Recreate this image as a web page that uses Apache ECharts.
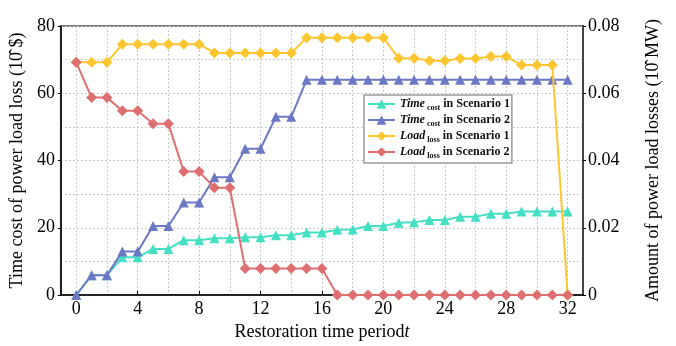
<!DOCTYPE html>
<html>
<head>
<meta charset="utf-8">
<script src="https://cdn.jsdelivr.net/npm/echarts@6/dist/echarts.min.js"></script>
<style>html,body{margin:0;padding:0;background:#fff;}#c{width:676px;height:346px;}</style>
</head>
<body>
<div id="c"></div>
<script>
const periods = [0,1,2,3,4,5,6,7,8,9,10,11,12,13,14,15,16,17,18,19,20,21,22,23,24,25,26,27,28,29,30,31,32];
const xTickLabels = [0,4,8,12,16,20,24,28,32];
const leftTicks = [0,20,40,60,80];
const rightTicks = [0,0.02,0.04,0.06,0.08];

const timeCostS1 = [0,5.9,5.9,11.2,11.2,13.7,13.7,16.3,16.3,16.9,16.9,17.2,17.2,17.8,17.8,18.6,18.6,19.4,19.5,20.5,20.5,21.5,21.6,22.3,22.3,23.3,23.3,24.2,24.2,24.8,24.8,24.8,24.8];
const timeCostS2 = [0,5.9,5.9,12.9,12.9,20.5,20.5,27.5,27.5,35.0,35.0,43.5,43.5,53.0,53.0,64,64,64,64,64,64,64,64,64,64,64,64,64,64,64,64,64,64];
const loadLossS1 = [0.0692,0.0692,0.0692,0.0746,0.0746,0.0746,0.0746,0.0746,0.0746,0.072,0.072,0.072,0.072,0.072,0.072,0.0765,0.0765,0.0765,0.0765,0.0765,0.0765,0.0704,0.0704,0.0697,0.0697,0.0703,0.0703,0.0709,0.0709,0.0684,0.0684,0.0684,0];
const loadLossS2 = [0.0692,0.0587,0.0587,0.0548,0.0548,0.0509,0.0509,0.0367,0.0367,0.0319,0.0319,0.0079,0.0079,0.0079,0.0079,0.0079,0.0079,0,0,0,0,0,0,0,0,0,0,0,0,0,0,0,0];

const seriesNames = ['Time cost in Scenario 1','Time cost in Scenario 2','Load loss in Scenario 1','Load loss in Scenario 2'];
const legendParts = [['Time','cost','in Scenario 1'],['Time','cost','in Scenario 2'],['Load','loss','in Scenario 1'],['Load','loss','in Scenario 2']];
const colors = ['#45dfc4','#6b79c5','#fdc631','#de6f70'];

const FONT = 'Liberation Serif';
const cats = ['-1'].concat(periods.map(String)).concat(['33']);
const pairs = arr => periods.map((t,i) => [String(t), arr[i]]);

const chart = echarts.init(document.getElementById('c'));
const mkSeries = (i, data, yIdx, sym, size) => ({
  name: seriesNames[i], type: 'line', yAxisIndex: yIdx, data: pairs(data),
  symbol: sym, symbolSize: size, showSymbol: true, showAllSymbol: true, color: colors[i],
  lineStyle: {width: 2, color: colors[i]}, itemStyle: {color: colors[i]},
  animation: false, z: 2 + i
});
chart.setOption({
  animation: false,
  grid: {left: 58, top: 26, right: 93, bottom: 51, show: true, borderColor: '#777', borderWidth: 2, backgroundColor: 'transparent'},
  legend: {
    orient: 'vertical', left: 364, top: 95, padding: [3, 2, 3, 3], itemGap: 2,
    itemWidth: 27, itemHeight: 12, backgroundColor: '#fff', borderColor: '#9a9a9a', borderWidth: 1.5,
    data: seriesNames,
    formatter: name => { const p = legendParts[seriesNames.indexOf(name)]; return '{i|' + p[0] + '}{s| ' + p[1] + '}{b| ' + p[2] + '}'; },
    textStyle: {fontFamily: FONT, color: '#111', rich: {
      i: {fontFamily: FONT, fontSize: 12, fontWeight: 'bold', fontStyle: 'italic', lineHeight: 16, color: '#111'},
      s: {fontFamily: FONT, fontSize: 8, fontWeight: 'bold', lineHeight: 9, verticalAlign: 'bottom', color: '#111'},
      b: {fontFamily: FONT, fontSize: 12, fontWeight: 'bold', lineHeight: 16, color: '#111'}
    }}
  },
  xAxis: {
    type: 'category', data: cats, boundaryGap: false,
    name: '{a|Restoration time period}{t|t}', nameLocation: 'middle', nameGap: 24,
    nameTextStyle: {rich: {a: {fontFamily: FONT, fontSize: 18, color: '#000'}, t: {fontFamily: FONT, fontSize: 18, fontStyle: 'italic', color: '#000'}}},
    axisLine: {lineStyle: {color: '#000', width: 1.5}},
    axisTick: {inside: true, length: 4, lineStyle: {color: '#000'}, interval: (i, v) => xTickLabels.indexOf(+v) >= 0},
    axisLabel: {fontFamily: FONT, fontSize: 18, color: '#000', margin: 5, interval: (i, v) => xTickLabels.indexOf(+v) >= 0},
    splitLine: {show: true, interval: (i, v) => (+v) >= 0 && (+v) % 2 === 0, lineStyle: {color: '#c8c8c8', type: [2, 2], width: 1}}
  },
  yAxis: [
    {
      type: 'value', min: leftTicks[0], max: leftTicks[leftTicks.length - 1], interval: 20,
      name: 'Time cost of power load loss (10\u0302 $)', nameLocation: 'middle', nameRotate: 90, nameGap: 27,
      nameTextStyle: {fontFamily: FONT, fontSize: 18, color: '#000'},
      axisLine: {show: true, lineStyle: {color: '#000', width: 1.5}},
      axisTick: {show: true, inside: false, length: 3, lineStyle: {color: '#000'}},
      axisLabel: {fontFamily: FONT, fontSize: 18, color: '#000', margin: 6},
      splitLine: {show: true, lineStyle: {color: '#c8c8c8', type: [2, 2], width: 1}},
      minorTick: {show: false, splitNumber: 2},
      minorSplitLine: {show: true, lineStyle: {color: '#c8c8c8', type: [2, 2], width: 1}}
    },
    {
      type: 'value', min: rightTicks[0], max: rightTicks[rightTicks.length - 1], interval: 0.02, position: 'right',
      name: 'Amount of power load losses (10\u0302 MW)', nameLocation: 'middle', nameRotate: 90, nameGap: 61,
      nameTextStyle: {fontFamily: FONT, fontSize: 18, color: '#000'},
      axisLine: {show: true, lineStyle: {color: '#333', width: 1.5}},
      axisTick: {show: true, inside: false, length: 3, lineStyle: {color: '#000'}},
      axisLabel: {fontFamily: FONT, fontSize: 18, color: '#000', margin: 5, formatter: v => String(+v.toFixed(2))},
      splitLine: {show: false}
    }
  ],
  series: [
    mkSeries(0, timeCostS1, 0, 'triangle', 10),
    mkSeries(1, timeCostS2, 0, 'triangle', 10),
    mkSeries(2, loadLossS1, 1, 'diamond', 11),
    mkSeries(3, loadLossS2, 1, 'diamond', 11)
  ]
});
</script>
</body>
</html>
